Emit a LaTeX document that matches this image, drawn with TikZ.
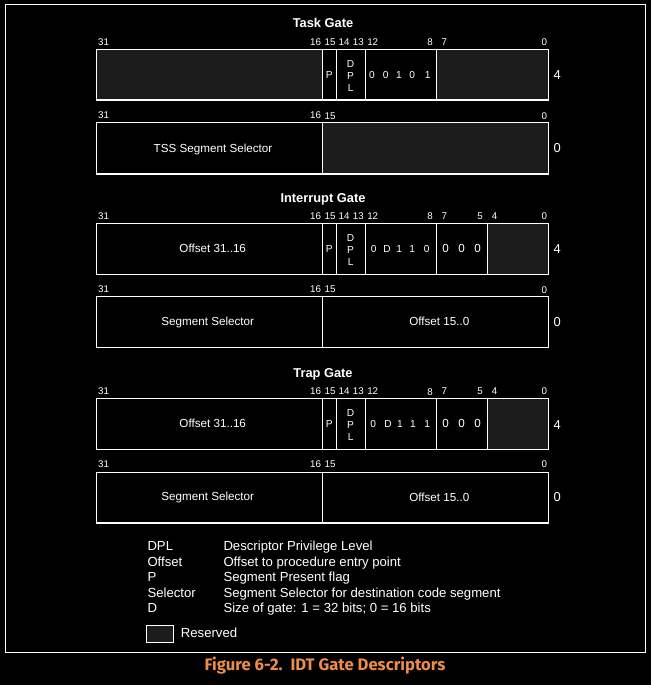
\documentclass[tikz,border=0pt]{standalone}
\usepackage{fontspec}
\setmainfont{Liberation Sans}
\newfontfamily\capfont{Fira Sans}
\definecolor{resv}{RGB}{28,28,28}
\definecolor{capor}{RGB}{238,140,72}
\begin{document}
\begin{tikzpicture}[x=1bp,y=-1bp,
  txt/.style={inner sep=0pt,text height=.716em,text depth=0pt,text=white},
  bit/.style={txt,font=\fontsize{9.8}{10}\selectfont},
  fld/.style={txt,font=\fontsize{11.7}{12}\selectfont},
  sml/.style={txt,font=\fontsize{10.2}{11}\selectfont},
  gtitle/.style={txt,font=\fontsize{12.9}{13}\selectfont\bfseries},
  rowno/.style={txt,font=\fontsize{13}{13}\selectfont},
  leg/.style={txt,anchor=west,font=\fontsize{13.2}{14}\selectfont},
  box/.style={draw=white,line width=1.3bp},
  rsv/.style={fill=resv}]
\useasboundingbox (0,0) rectangle (651,685);
\fill[black] (0,0) rectangle (651,685);
\draw[white,line width=1.5bp] (5.5,4.5) rectangle (645.5,652.5);

% ================= Task Gate =================
\node[gtitle] (t1) at (323,24.3) {Task Gate};
\node[bit,anchor=west] (t1b31) at (98,41.7) {31};
\node[bit,anchor=east] (t1b16) at (321.3,41.7) {16};
\node[bit] (t1b15) at (330,41.7) {15};
\node[bit] (t1b14) at (344,41.7) {14};
\node[bit] (t1b13) at (358.3,41.7) {13};
\node[bit] (t1b12) at (372.7,41.7) {12};
\node[bit] (t1b8) at (430,41.7) {8};
\node[bit] (t1b7) at (444.3,41.7) {7};
\node[bit] (t1b0) at (544.3,41.7) {0};
\fill[rsv] (96.5,49.3) rectangle (322.3,100);
\fill[rsv] (436.5,49.3) rectangle (548.5,100);
\draw[box] (96.5,49.3) rectangle (548.5,100);
\draw[box] (322.3,49.3) -- (322.3,100) (336.3,49.3) -- (336.3,100)
  (365.3,49.3) -- (365.3,100) (436.5,49.3) -- (436.5,100);
\node[sml] (t1p) at (329.3,75) {P};
\node[sml] (t1d1) at (350.6,64) {D};
\node[sml] (t1d2) at (350.6,75.5) {P};
\node[sml] (t1d3) at (350.6,87.5) {L};
\node[sml] (t1a) at (372,75) {0};
\node[sml] (t1b) at (385.7,75) {0};
\node[sml] (t1c) at (399,75) {1};
\node[sml] (t1d) at (412.3,75) {0};
\node[sml] (t1e) at (427.7,75) {1};
\node[rowno] (t1r) at (557.3,75.7) {4};

\node[bit,anchor=west] (t2b31) at (98,115) {31};
\node[bit,anchor=east] (t2b16) at (321.3,115) {16};
\node[bit] (t2b15) at (330,116) {15};
\node[bit] (t2b0) at (544.3,116) {0};
\fill[rsv] (322.3,122.7) rectangle (548.5,174);
\draw[box] (96.5,122.7) rectangle (548.5,174);
\draw[box] (322.3,122.7) -- (322.3,174);
\node[fld] (t2s) at (213,148.5) {TSS Segment Selector};
\node[rowno] (t2r) at (557.3,149) {0};

% ================= Interrupt Gate =================
\begin{scope}[yshift=-174.4bp]
\node[gtitle] (i1) at (323,24.6) {Interrupt Gate};
\node[bit,anchor=west] (i1b31) at (98,41.3) {31};
\node[bit,anchor=east] (i1b16) at (321.3,41.3) {16};
\node[bit] (i1b15) at (330,41.3) {15};
\node[bit] (i1b14) at (344,41.3) {14};
\node[bit] (i1b13) at (358.3,41.3) {13};
\node[bit] (i1b12) at (372.7,41.3) {12};
\node[bit] (i1b8) at (430,41.3) {8};
\node[bit] (i1b7) at (444.3,41.3) {7};
\node[bit] (i1b5) at (480,41.3) {5};
\node[bit] (i1b4) at (494.7,41.3) {4};
\node[bit] (i1b0) at (544.3,41.3) {0};
\fill[rsv] (487.3,49.3) rectangle (548.5,100);
\draw[box] (96.5,49.3) rectangle (548.5,100);
\draw[box] (322.3,49.3) -- (322.3,100) (336.3,49.3) -- (336.3,100)
  (365.3,49.3) -- (365.3,100) (436.5,49.3) -- (436.5,100)
  (487.3,49.3) -- (487.3,100);
\node[fld] (i1o) at (212.7,74.5) {Offset 31..16};
\node[sml] (i1p) at (329.3,75) {P};
\node[sml] (i1d1) at (350.6,64) {D};
\node[sml] (i1d2) at (350.6,75.5) {P};
\node[sml] (i1d3) at (350.6,87.5) {L};
\node[sml] (i1a) at (373.7,74.5) {0};
\node[sml] (i1b) at (387,74.5) {D};
\node[sml] (i1c) at (399.3,74.5) {1};
\node[sml] (i1d) at (412.3,74.5) {1};
\node[sml] (i1e) at (426.7,74.5) {0};
\node[fld] (i1f) at (445.7,75) {0};
\node[fld] (i1g) at (461.7,75) {0};
\node[fld] (i1h) at (477.7,75) {0};
\node[rowno] (i1r) at (557.3,75.7) {4};

\node[bit,anchor=west] (i2b31) at (98,114.3) {31};
\node[bit,anchor=east] (i2b16) at (321.3,114.3) {16};
\node[bit] (i2b15) at (330,114.3) {15};
\node[bit] (i2b0) at (544.3,115.5) {0};
\draw[box] (96.5,122.3) rectangle (548.5,172.9);
\draw[box] (322.3,122.3) -- (322.3,172.9);
\node[fld] (i2s) at (207.7,148) {Segment Selector};
\node[fld] (i2o) at (439.3,148) {Offset 15..0};
\node[rowno] (i2r) at (557.3,149) {0};
\end{scope}

% ================= Trap Gate =================
\begin{scope}[yshift=-349.4bp]
\node[gtitle] (r1) at (323,24.3) {Trap Gate};
\node[bit,anchor=west] (r1b31) at (98,41.6) {31};
\node[bit,anchor=east] (r1b16) at (321.3,41.6) {16};
\node[bit] (r1b15) at (330,41.6) {15};
\node[bit] (r1b14) at (344,41.6) {14};
\node[bit] (r1b13) at (358.3,41.6) {13};
\node[bit] (r1b12) at (372.7,41.6) {12};
\node[bit] (r1b8) at (430,42.6) {8};
\node[bit] (r1b7) at (444.3,41.6) {7};
\node[bit] (r1b5) at (480,41.6) {5};
\node[bit] (r1b4) at (494.7,41.6) {4};
\node[bit] (r1b0) at (544.3,41.6) {0};
\fill[rsv] (487.3,49.3) rectangle (548.5,99.9);
\draw[box] (96.5,49.3) rectangle (548.5,99.9);
\draw[box] (322.3,49.3) -- (322.3,99.9) (336.3,49.3) -- (336.3,99.9)
  (365.3,49.3) -- (365.3,99.9) (436.5,49.3) -- (436.5,99.9)
  (487.3,49.3) -- (487.3,99.9);
\node[fld] (r1o) at (212.7,74.5) {Offset 31..16};
\node[sml] (r1p) at (329.3,75) {P};
\node[sml] (r1d1) at (350.6,64) {D};
\node[sml] (r1d2) at (350.6,75.5) {P};
\node[sml] (r1d3) at (350.6,87.5) {L};
\node[sml] (r1a) at (373.3,74.8) {0};
\node[sml] (r1b) at (388,74.8) {D};
\node[sml] (r1c) at (400,74.8) {1};
\node[sml] (r1d) at (413,74.8) {1};
\node[sml] (r1e) at (427.3,74.8) {1};
\node[fld] (r1f) at (445.7,75) {0};
\node[fld] (r1g) at (461.7,75) {0};
\node[fld] (r1h) at (477.7,75) {0};
\node[rowno] (r1r) at (557.3,76.5) {4};

\node[bit,anchor=west] (r2b31) at (98,114.3) {31};
\node[bit,anchor=east] (r2b16) at (321.3,115) {16};
\node[bit] (r2b15) at (330,115) {15};
\node[bit] (r2b0) at (544.3,115) {0};
\draw[box] (96.5,123.3) rectangle (548.5,173.6);
\draw[box] (322.3,123.3) -- (322.3,173.6);
\node[fld] (r2s) at (207.7,147.5) {Segment Selector};
\node[fld] (r2o) at (439.3,148.5) {Offset 15..0};
\node[rowno] (r2r) at (557.3,149) {0};
\end{scope}

% ================= Legend =================
\node[leg] (l1a) at (147.3,546.7) {DPL};
\node[leg] (l1b) at (223.3,546.7) {Descriptor Privilege Level};
\node[leg] (l2a) at (147.3,562.5) {Offset};
\node[leg] (l2b) at (223.3,562.5) {Offset to procedure entry point};
\node[leg] (l3a) at (147.3,577.7) {P};
\node[leg] (l3b) at (223.3,577.7) {Segment Present flag};
\node[leg] (l4a) at (147.3,594) {Selector};
\node[leg] (l4b) at (223.3,594) {Segment Selector for destination code segment};
\node[leg] (l5a) at (147.3,609.3) {D};
\node[leg] (l5b) at (223.3,609.3) {Size of gate: 1 = 32 bits; 0 = 16 bits};
\draw[box,fill=resv,line width=1.2bp] (146.3,625.7) rectangle (173.7,642.3);
\node[leg] (lres) at (180.7,634) {Reserved};

% ================= Caption =================
\node[inner sep=0pt,text height=.7em,text depth=0pt,text=capor,
  font=\fontsize{16.7}{17}\selectfont\capfont\bfseries] (cap) at (325,667.3)
  {Figure 6-2.\ \ IDT Gate Descriptors};
\end{tikzpicture}
\end{document}
